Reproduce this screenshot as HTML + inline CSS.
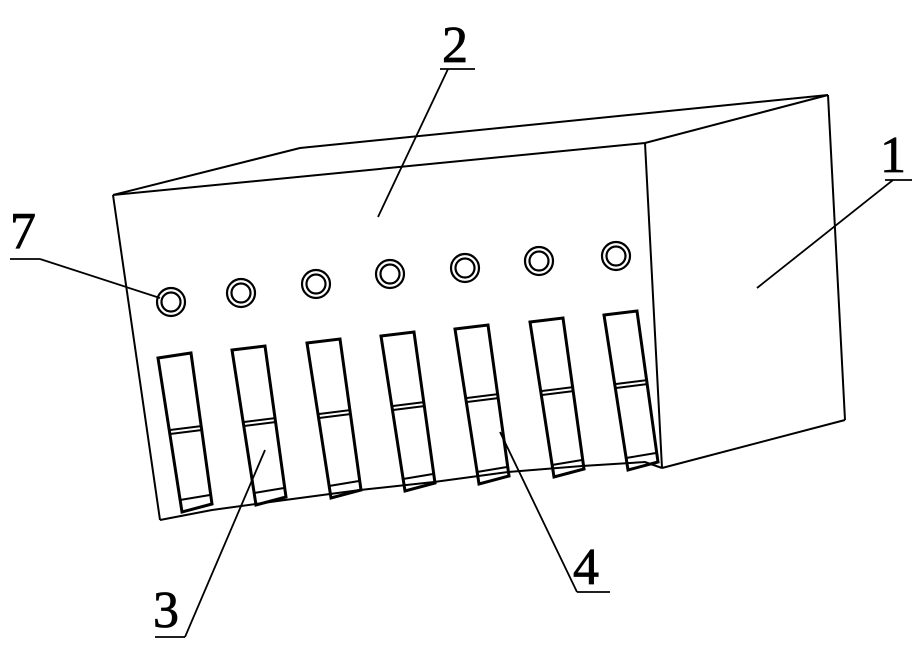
<!DOCTYPE html>
<html><head><meta charset="utf-8"><style>
html,body{margin:0;padding:0;background:#fff;}
svg{display:block;}
text{font-family:"Liberation Serif",serif;font-size:52px;fill:#000;stroke:#000;stroke-width:0.8;}
</style></head><body>
<svg width="916" height="647" viewBox="0 0 916 647" xmlns="http://www.w3.org/2000/svg">
<g fill="none" stroke="#000" stroke-width="2">
<polyline points="113,195 300,148 828,95"/>
<polyline points="113,195 645,143 828,95"/>
<line x1="113" y1="195" x2="160" y2="520"/>
<line x1="645" y1="143" x2="662" y2="468"/>
<line x1="828" y1="95" x2="845" y2="420"/>
<line x1="662" y1="468" x2="845" y2="420"/>
<polyline points="160,520 212,510 285,500 360,490 434,482 508,472 582,466 645,462 662,468"/>
</g>
<g fill="none" stroke="#000" stroke-width="3">
<polygon points="158,358 191,353 212,504 182,512"/>
<polygon points="232,350 265,346 286,497 256,505"/>
<polygon points="307,343 340,339 361,490 331,498"/>
<polygon points="381,336 414,332 435,483 405,491"/>
<polygon points="455,329 488,325 509,476 479,484"/>
<polygon points="530,322 563,318 584,469 554,477"/>
<polygon points="604,315 637,311 658,462 628,470"/>
</g>
<g fill="none" stroke="#000" stroke-width="2">
<polyline points="170,430 202,426"/><polyline points="170,434 202,430"/>
<polyline points="244,422 276,418"/><polyline points="244,426 276,422"/>
<polyline points="319,414 351,410"/><polyline points="319,418 351,414"/>
<polyline points="393,406 425,402"/><polyline points="393,410 425,406"/>
<polyline points="467,398 499,394"/><polyline points="467,402 499,398"/>
<polyline points="542,391 574,387"/><polyline points="542,395 574,391"/>
<polyline points="616,384 648,380"/><polyline points="616,388 648,384"/>
<polyline points="180,500 210,495"/><polyline points="254,493 284,488"/><polyline points="329,486 359,481"/><polyline points="403,479 433,474"/><polyline points="477,472 507,467"/><polyline points="552,465 582,460"/><polyline points="626,458 656,453"/>
</g>
<g fill="none" stroke="#000" stroke-width="2.2">
<circle cx="171" cy="302" r="14"/><circle cx="171" cy="302" r="9.5"/>
<circle cx="241" cy="293" r="14"/><circle cx="241" cy="293" r="9.5"/>
<circle cx="316" cy="284" r="14"/><circle cx="316" cy="284" r="9.5"/>
<circle cx="390" cy="274" r="14"/><circle cx="390" cy="274" r="9.5"/>
<circle cx="465" cy="268" r="14"/><circle cx="465" cy="268" r="9.5"/>
<circle cx="539" cy="261" r="14"/><circle cx="539" cy="261" r="9.5"/>
<circle cx="616" cy="256" r="14"/><circle cx="616" cy="256" r="9.5"/>
</g>
<g fill="none" stroke="#000" stroke-width="1.8">
<line x1="448" y1="69" x2="378" y2="217"/>
<line x1="440" y1="69" x2="475" y2="69"/>
<line x1="893" y1="180" x2="757" y2="288"/>
<line x1="885" y1="180" x2="912" y2="180"/>
<line x1="40" y1="259" x2="160" y2="298"/>
<line x1="10" y1="259" x2="40" y2="259"/>
<line x1="185" y1="637" x2="265" y2="450"/>
<line x1="155" y1="637" x2="185" y2="637"/>
<line x1="577" y1="592" x2="500" y2="432"/>
<line x1="577" y1="592" x2="610" y2="592"/>
</g>
<text x="442" y="62">2</text>
<text x="880" y="172">1</text>
<text x="10" y="248">7</text>
<text x="153" y="627">3</text>
<text x="573" y="584">4</text>
</svg>
</body></html>
